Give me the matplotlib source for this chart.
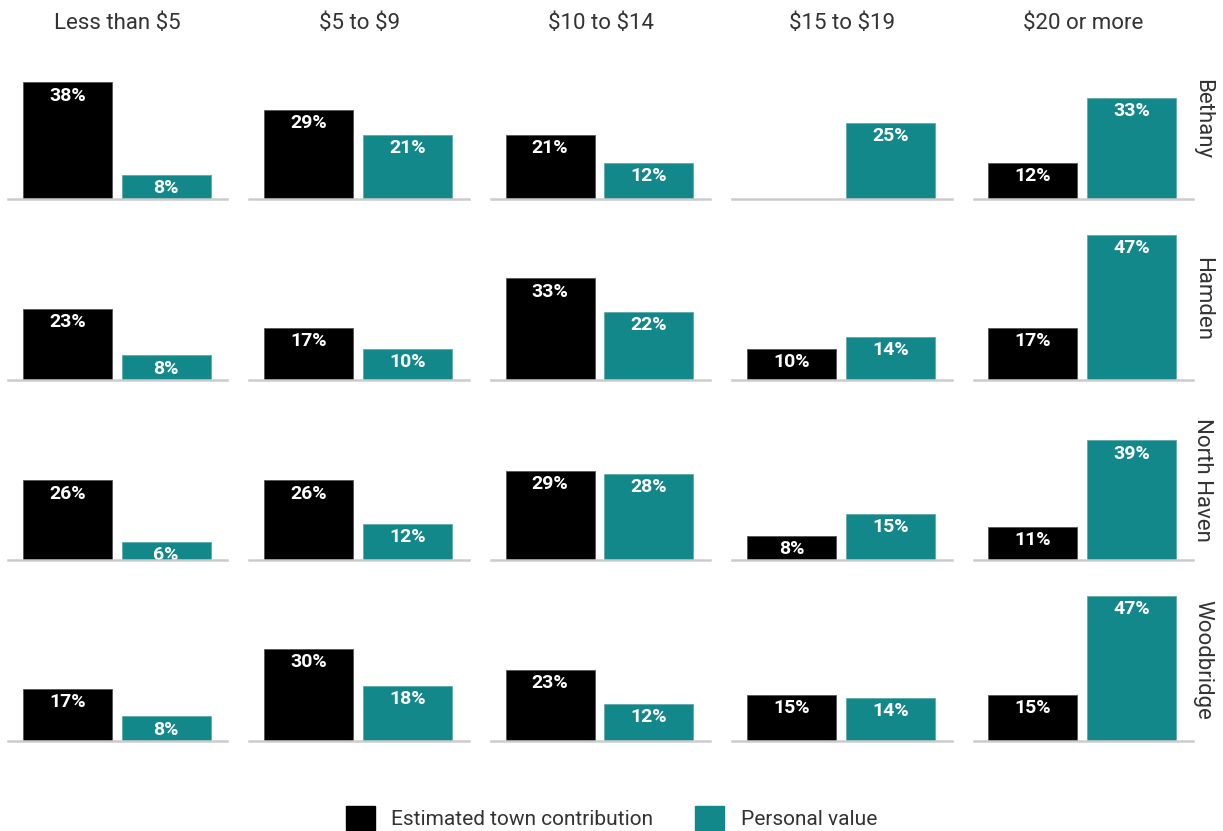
import matplotlib
matplotlib.use("Agg")
from matplotlib import pyplot as plt
from matplotlib.patches import Patch

plt.rcParams['font.family'] = ['Roboto', 'DejaVu Sans']
plt.rcParams['text.parse_math'] = False

# данные
brackets = ["Less than $5", "$5 to $9", "$10 to $14", "$15 to $19", "$20 or more"]
towns = ["Bethany", "Hamden", "North Haven", "Woodbridge"]

town_contribution = {
    "Bethany": [38, 29, 21, None, 12],
    "Hamden": [23, 17, 33, 10, 17],
    "North Haven": [26, 26, 29, 8, 11],
    "Woodbridge": [17, 30, 23, 15, 15],
}
personal_value = {
    "Bethany": [8, 21, 12, 25, 33],
    "Hamden": [8, 10, 22, 14, 47],
    "North Haven": [6, 12, 28, 15, 39],
    "Woodbridge": [8, 18, 12, 14, 47],
}

black = "#000000"
teal = "#12888b"
txt = "#333333"

fig, axes = plt.subplots(4, 5, figsize=(12.23, 8.31), dpi=100)
fig.subplots_adjust(left=8 / 1223, right=1193 / 1223, top=1 - 44 / 831,
                    bottom=1 - 741 / 831, wspace=0.1, hspace=0.161)


def label(ax, x, v):
    ax.annotate(f"{v}%", (x, v), xytext=(0, -3), textcoords="offset points",
                ha="center", va="top", color="white", fontsize=14,
                fontweight="bold", zorder=3)


for r, town in enumerate(towns):
    for c, br in enumerate(brackets):
        ax = axes[r, c]
        a = town_contribution[town][c]
        b = personal_value[town][c]
        if a is not None:
            ax.bar(0, a, width=0.9, color=black, edgecolor="#555555", linewidth=0.6)
            label(ax, 0, a)
        ax.bar(1, b, width=0.9, color=teal, edgecolor="#5fa9ab", linewidth=0.6)
        label(ax, 1, b)
        ax.axhline(0, color="#cccccc", linewidth=1.8, zorder=4, clip_on=False)
        ax.set_xlim(-0.6, 1.62)
        ax.set_ylim(0, 50.5)
        ax.axis("off")
        if r == 0:
            ax.text(0.5, 1 + 20 / 155, br, transform=ax.transAxes, ha="center",
                    va="center", fontsize=16, color=txt)
        if c == 4:
            ax.text(1.045, 0.52, town, transform=ax.transAxes, ha="center",
                    va="center", rotation=270, fontsize=16, color=txt)

handles = [Patch(facecolor=black, edgecolor=black, label="Estimated town contribution"),
           Patch(facecolor=teal, edgecolor=teal, label="Personal value")]
fig.legend(handles=handles, loc="center", bbox_to_anchor=(0.5, 1 - 818 / 831),
           ncol=2, frameon=False, fontsize=15, handlelength=1.4, handleheight=1.4,
           columnspacing=2.0, labelcolor=txt)

fig.savefig("out.png", dpi=100)
